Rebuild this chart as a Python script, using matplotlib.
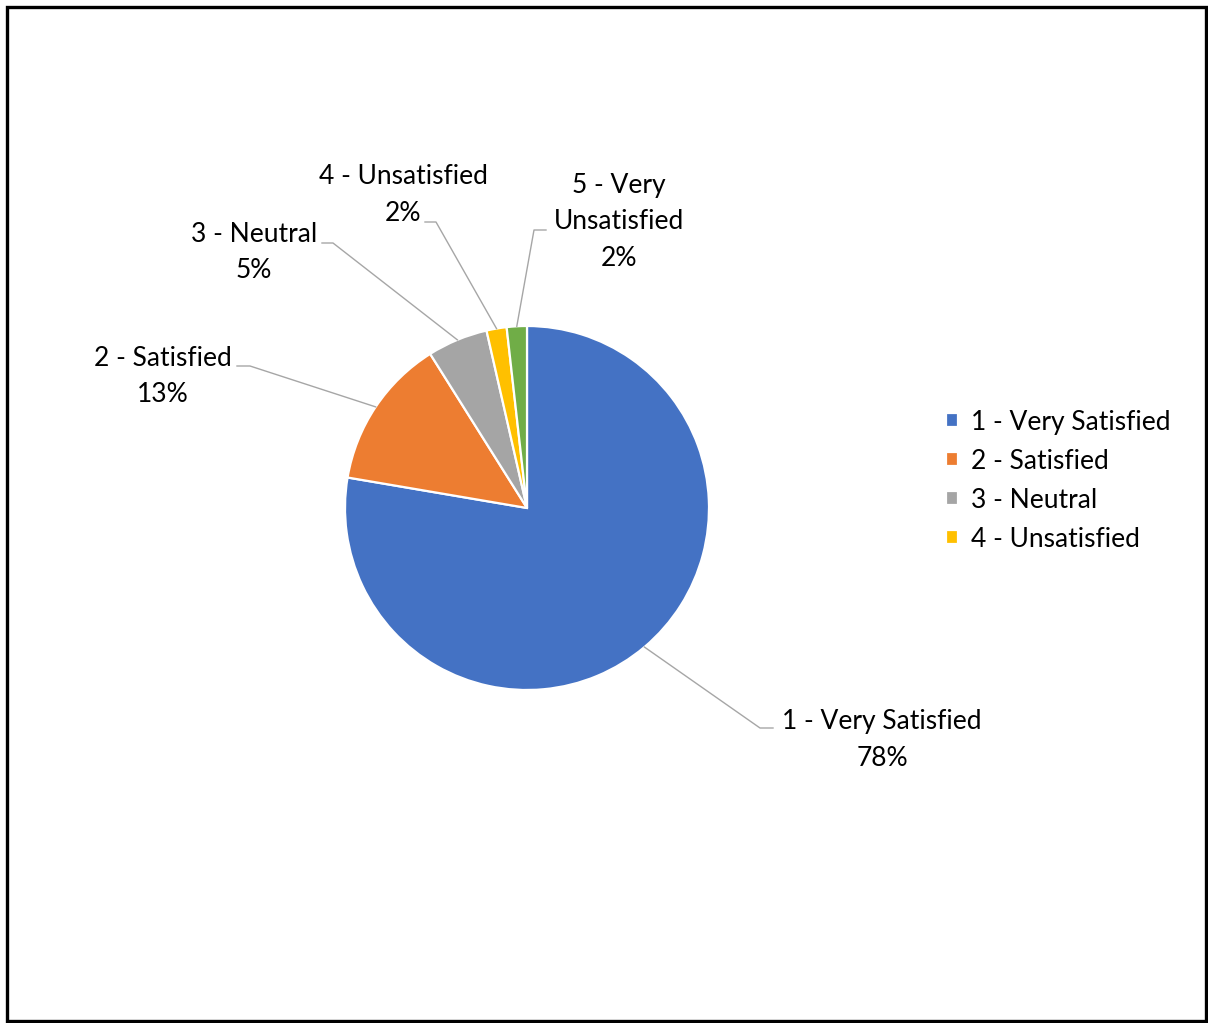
import numpy as np
import matplotlib.pyplot as plt
from matplotlib.patches import Rectangle

# survey answers (counts)
categories = ['1 - Very Satisfied', '2 - Satisfied', '3 - Neutral',
              '4 - Unsatisfied', '5 - Very Unsatisfied']
counts = [87, 15, 6, 2, 2]
colors = ['#4472C4', '#ED7D31', '#A5A5A5', '#FFC000', '#70AD47']

# label text lines and where they sit (pixel coords, y from top)
label_lines = [['1 - Very Satisfied'], ['2 - Satisfied'], ['3 - Neutral'],
               ['4 - Unsatisfied'], ['5 - Very', 'Unsatisfied']]
label_pos = [(882, 722), (163, 358), (254, 234), (403, 177), (619, 185)]
elbow = [(760, 728, 773), (250, 366, 237), (333, 243, 322),
         (436, 222, 425), (534, 230, 546)]

W, H = 1208, 1023
plt.rcParams['font.family'] = ['Lato', 'DejaVu Sans']
fig = plt.figure(figsize=(W / 100, H / 100), dpi=100)
ax = fig.add_axes([0, 0, 1, 1])

cx, cy, r = 527, H - 508, 182
wedges, _ = ax.pie(counts, colors=colors, startangle=90, counterclock=False,
                   center=(cx, cy), radius=r, frame=True,
                   wedgeprops=dict(edgecolor='white', linewidth=1.6))
ax.set_xlim(0, W)
ax.set_ylim(0, H)
ax.set_aspect('equal')
ax.axis('off')

total = sum(counts)
for i, w in enumerate(wedges):
    mid = np.deg2rad((w.theta1 + w.theta2) / 2)
    px, py = cx + r * np.cos(mid), cy + r * np.sin(mid)
    ex, ey, hx = elbow[i]
    ax.plot([px, ex, hx], [py, H - ey, H - ey], color='#A6A6A6', lw=1.0)
    pct = '{:.0f}%'.format(counts[i] / total * 100)
    lines = label_lines[i] + [pct]
    lx, ly = label_pos[i]
    for j, t in enumerate(lines):
        ax.text(lx, H - (ly + j * 36.5), t, ha='center', va='center',
                fontsize=19, color='#000000')

leg = fig.legend(wedges[:4], categories[:4], loc='upper left',
                 bbox_to_anchor=(922 / W, 1 - 386 / H), frameon=False,
                 fontsize=19, handlelength=0.45, handleheight=0.45,
                 handletextpad=0.5, labelspacing=0.53)

fig.patches.append(Rectangle((6.5 / W, 2 / H), (W - 9) / W, (H - 8.5) / H,
                             transform=fig.transFigure, fill=False,
                             edgecolor='black', linewidth=2.4))

fig.savefig('out.png', dpi=100)
